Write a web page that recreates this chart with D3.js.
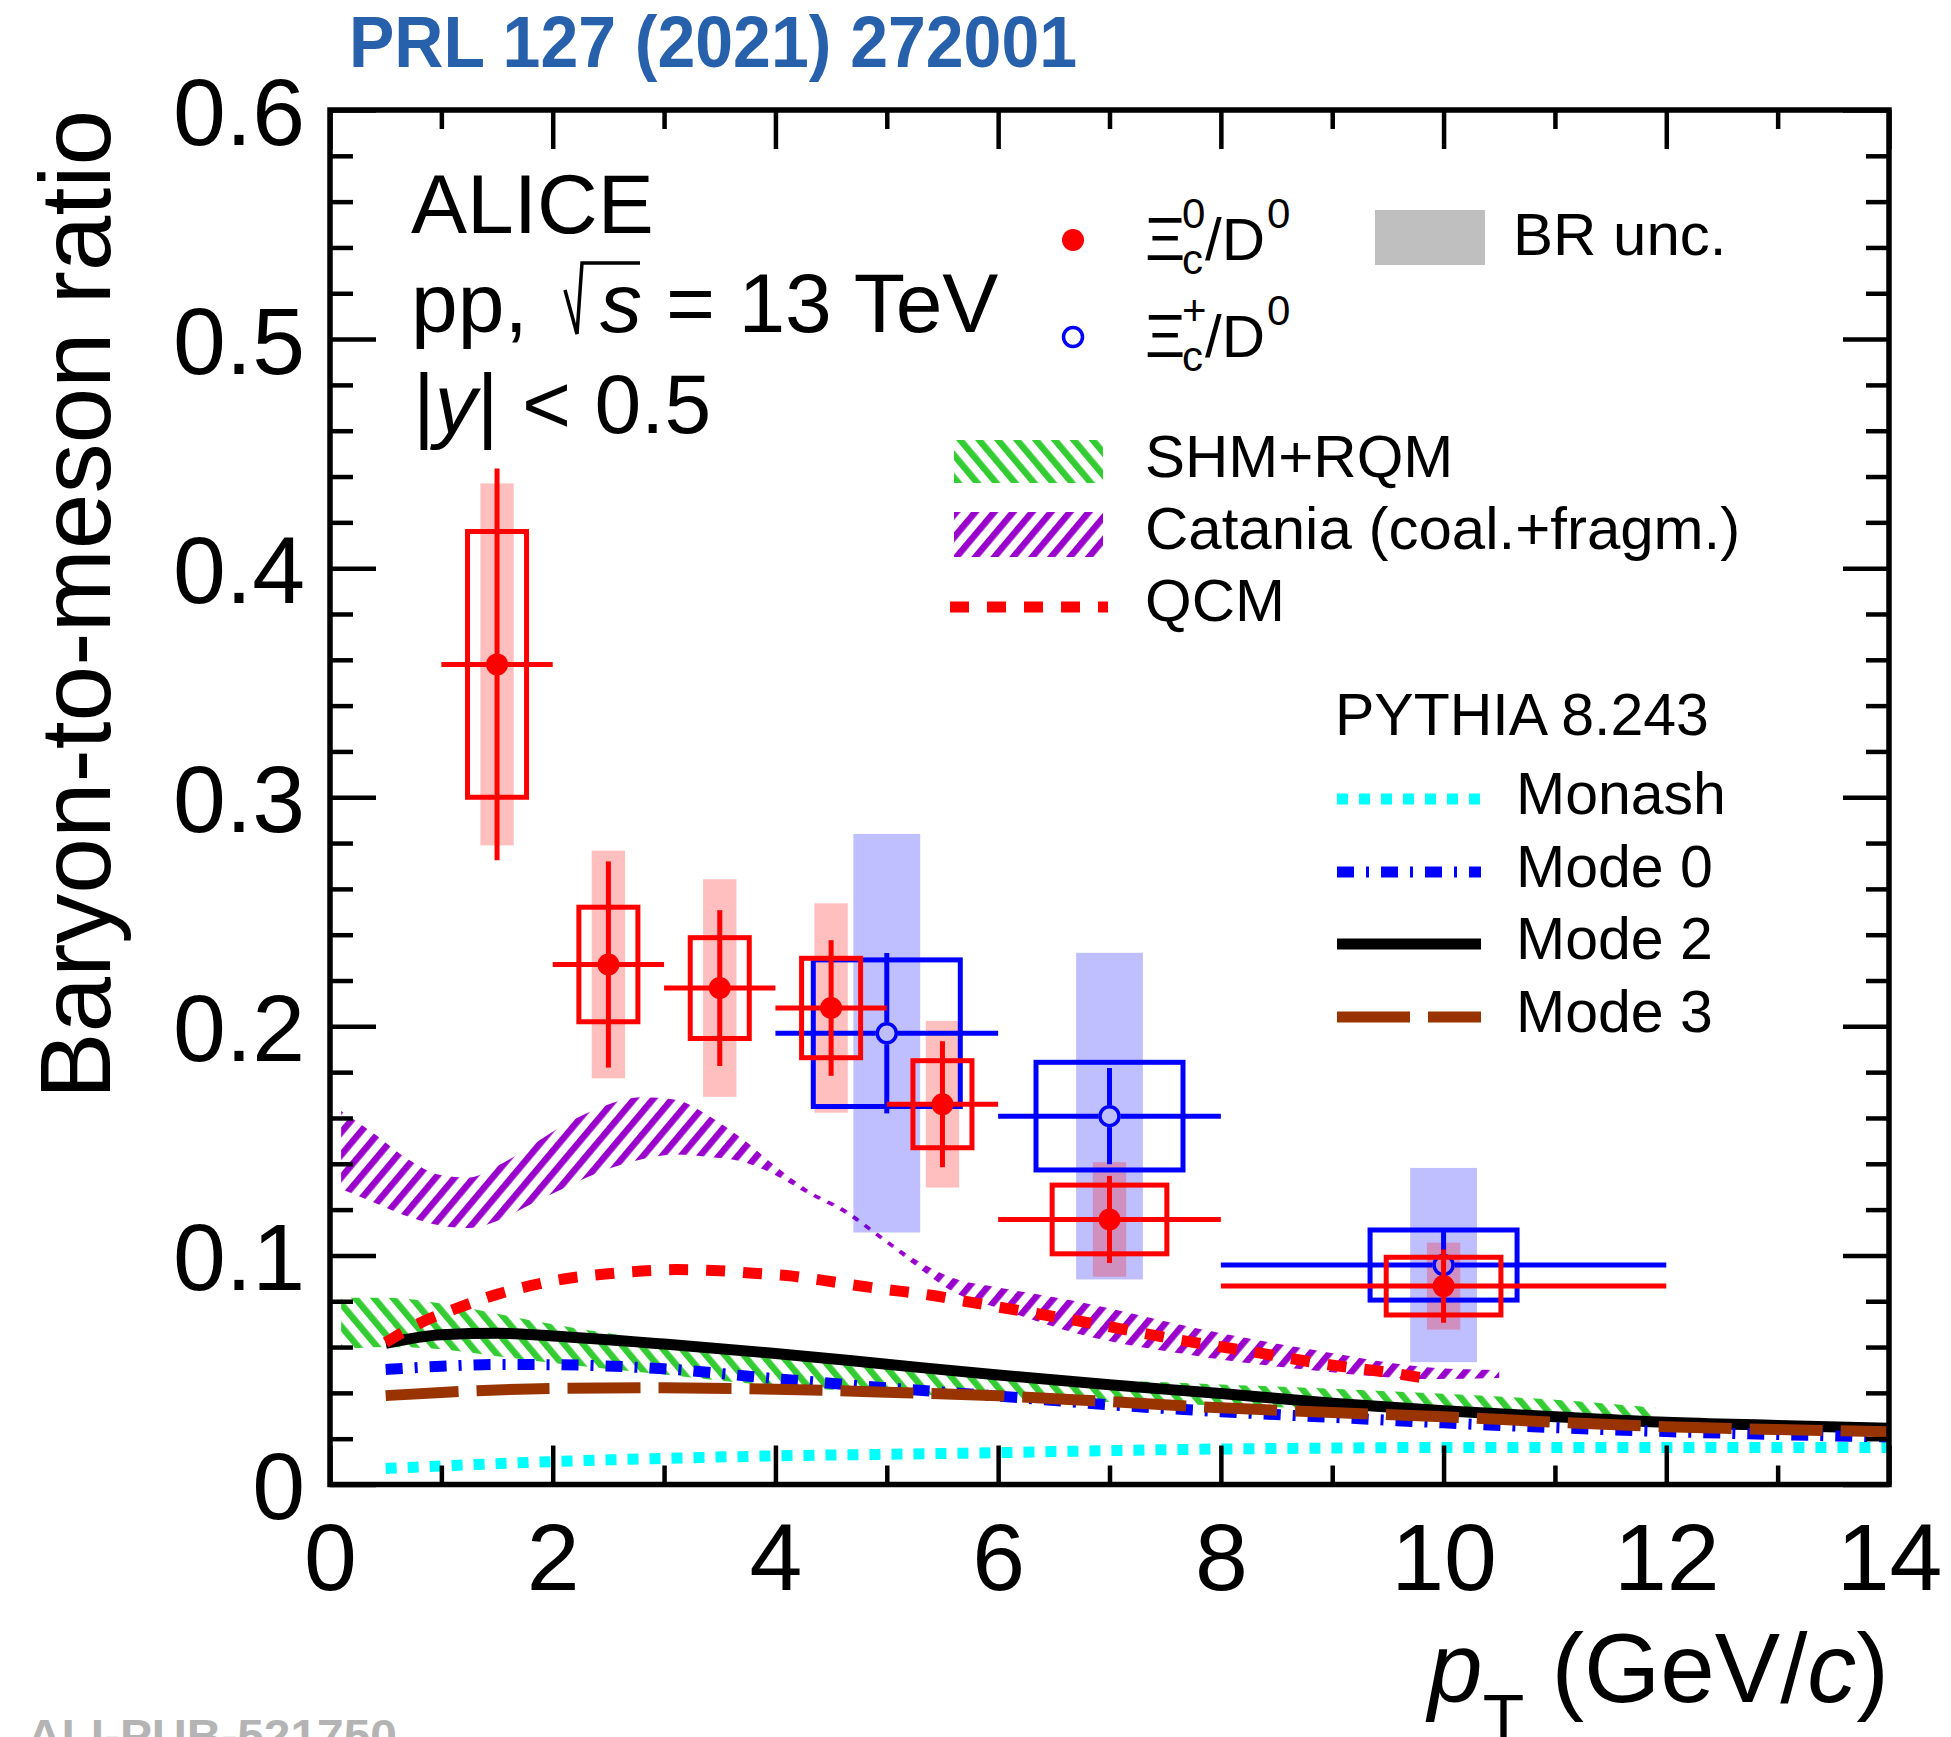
<!DOCTYPE html>
<html>
<head>
<meta charset="utf-8">
<script src="https://cdn.jsdelivr.net/npm/d3@7"></script>
<style>
  html, body { margin: 0; padding: 0; background: #fff; }
  svg { display: block; }
  text { font-family: "Liberation Sans", Arial, sans-serif; }
</style>
</head>
<body>
<svg id="canvas"></svg>
<script>
"use strict";

// ---- data ----
// Xi_c^0 / D^0
const ptXi0 = [1.5, 2.5, 3.5, 4.5, 5.5, 7, 10];
const binXi0 = [0.5, 0.5, 0.5, 0.5, 0.5, 1, 2];
const ratioXi0 = [0.358, 0.227, 0.2167, 0.208, 0.166, 0.1157, 0.0866];
const statXi0 = [0.0855, 0.045, 0.034, 0.0296, 0.0275, 0.019, 0.016];
const systXi0 = [0.058, 0.025, 0.022, 0.0217, 0.019, 0.015, 0.0126];
const brXi0 = [0.079, 0.0497, 0.0475, 0.0457, 0.0364, 0.025, 0.019];

// Xi_c^+ / D^0
const ptXiP = [5, 7, 10];
const binXiP = [1, 1, 2];
const ratioXiP = [0.197, 0.1608, 0.0958];
const statXiP = [0.035, 0.021, 0.015];
const systXiP = [0.032, 0.0235, 0.0153];
const brXiP = [0.087, 0.0713, 0.0424];

// PYTHIA 8.243
const pythiaPt = [0.5, 1, 1.5, 2, 3, 4, 5, 6, 7, 8, 9, 10, 11, 12, 13, 14];
const monash = [0.007, 0.0081, 0.0091, 0.01, 0.0114, 0.0125, 0.0132, 0.0139, 0.0148, 0.0155, 0.0159, 0.0162, 0.0162, 0.0162, 0.0162, 0.0162];
const mode0 = [0.0502, 0.0516, 0.0524, 0.0523, 0.0505, 0.0462, 0.0422, 0.0386, 0.0348, 0.0318, 0.0293, 0.0269, 0.0248, 0.0231, 0.0218, 0.0207];
const mode2 = [0.0616, 0.0654, 0.066, 0.0648, 0.0613, 0.0572, 0.0525, 0.0478, 0.0435, 0.0397, 0.0355, 0.0322, 0.0296, 0.0272, 0.0258, 0.0245];
const mode3 = [0.0388, 0.0402, 0.0413, 0.0419, 0.0422, 0.0416, 0.0403, 0.0387, 0.0362, 0.0335, 0.0314, 0.0296, 0.0272, 0.0252, 0.024, 0.023];

// QCM
const qcmPt = [0.5, 0.8, 1.1, 1.5, 1.8, 2.1, 2.5, 2.8, 3.1, 3.5, 3.8, 4.1, 4.4, 4.7, 5.0, 5.4, 5.7, 6.3, 7.0, 7.6, 8.3, 8.9, 9.6, 9.9];
const qcm = [0.062, 0.0703, 0.0762, 0.083, 0.0868, 0.0897, 0.092, 0.0932, 0.0938, 0.0933, 0.0922, 0.0912, 0.0893, 0.0871, 0.0851, 0.0826, 0.08, 0.075, 0.0689, 0.0633, 0.0578, 0.0528, 0.0482, 0.0458];

// SHM+RQM band
const shmPt = [0.1, 0.5, 1, 1.5, 2, 3, 4, 5, 6, 7, 8, 9, 10, 11, 11.9];
const shmLow = [0.059, 0.06, 0.059, 0.056, 0.053, 0.048, 0.043, 0.04, 0.0378, 0.036, 0.0345, 0.033, 0.0315, 0.0305, 0.0295];
const shmHigh = [0.0815, 0.0815, 0.079, 0.0745, 0.07, 0.0625, 0.0565, 0.0515, 0.0478, 0.0455, 0.0437, 0.0418, 0.0396, 0.037, 0.0335];

// Catania (coal.+fragm.) band
const catPt = [0.1, 0.4, 0.7, 1.0, 1.25, 1.5, 1.75, 2.0, 2.4, 2.8, 3.1, 3.4, 3.7, 4.0, 4.3, 4.6, 5.0, 5.3, 5.6, 6.0, 6.7, 7.8, 8.8, 9.9, 10.5];
const catLow = [0.129, 0.123, 0.117, 0.113, 0.112, 0.115, 0.121, 0.127, 0.136, 0.142, 0.144, 0.143, 0.141, 0.135, 0.1265, 0.119, 0.105, 0.094, 0.084, 0.077, 0.066, 0.056, 0.05, 0.046, 0.0465];
const catHigh = [0.163, 0.153, 0.142, 0.135, 0.134, 0.139, 0.146, 0.154, 0.164, 0.169, 0.168, 0.161, 0.151, 0.139, 0.1285, 0.121, 0.107, 0.097, 0.09, 0.086, 0.08, 0.068, 0.059, 0.051, 0.05];

const xTicks = [0, 2, 4, 6, 8, 10, 12, 14];
const yTicks = [0, 0.1, 0.2, 0.3, 0.4, 0.5, 0.6];

// ---- layout ----
const width = 1951;
const height = 1737;
const plot = { left: 330, right: 1889, top: 110, bottom: 1484.5 };

const red = "#ff0000";
const blue = "#0000ff";

const svg = d3.select("#canvas").attr("width", width).attr("height", height);
svg.append("rect").attr("width", width).attr("height", height).attr("fill", "#fff");

const xScale = d3.scaleLinear().domain([0, 14]).range([plot.left, plot.right]);
const yScale = d3.scaleLinear().domain([0, 0.6]).range([plot.bottom, plot.top]);

const defs = svg.append("defs");
defs.append("clipPath").attr("id", "plotClip")
  .append("rect")
  .attr("x", plot.left).attr("y", plot.top)
  .attr("width", plot.right - plot.left).attr("height", plot.bottom - plot.top);

const hatch = (id, color, angle) => {
  const p = defs.append("pattern")
    .attr("id", id)
    .attr("patternUnits", "userSpaceOnUse")
    .attr("width", 14.5).attr("height", 14.5)
    .attr("patternTransform", `rotate(${angle})`);
  p.append("rect").attr("width", 6.5).attr("height", 14.5).attr("fill", color);
};
hatch("hatchCat", "#9900cc", 40);   // "////"
hatch("hatchShm", "#33cc33", -40);  // "\\\\"

const zip = (...arrs) => arrs[0].map((_, i) => arrs.map((a) => a[i]));

const line = d3.line()
  .x((d) => xScale(d[0]))
  .y((d) => yScale(d[1]))
  .curve(d3.curveMonotoneX);

const band = d3.area()
  .x((d) => xScale(d[0]))
  .y0((d) => yScale(d[1]))
  .y1((d) => yScale(d[2]))
  .curve(d3.curveMonotoneX);

const models = svg.append("g").attr("clip-path", "url(#plotClip)");

// ---- model bands ----
models.append("path")
  .attr("d", band(zip(catPt, catLow, catHigh)))
  .attr("fill", "url(#hatchCat)");

models.append("path")
  .attr("d", band(zip(shmPt, shmLow, shmHigh)))
  .attr("fill", "url(#hatchShm)");

// ---- PYTHIA curves ----
const pythiaCurves = [
  { name: "Monash", values: monash, color: "#00ffff", dash: "11,11" },
  { name: "Mode 0", values: mode0, color: "#0000ff", dash: "17,12,3,12" },
  { name: "Mode 2", values: mode2, color: "#000000", dash: null },
  { name: "Mode 3", values: mode3, color: "#993300", dash: "73,18" },
];
const drawOrder = [0, 2, 1, 3];

drawOrder.forEach((i) => {
  const c = pythiaCurves[i];
  models.append("path")
    .attr("d", line(zip(pythiaPt, c.values)))
    .attr("fill", "none")
    .attr("stroke", c.color)
    .attr("stroke-width", 11)
    .attr("stroke-dasharray", c.dash);
});

const qcmDash = "19,18";
models.append("path")
  .attr("d", line(zip(qcmPt, qcm)))
  .attr("fill", "none")
  .attr("stroke", red)
  .attr("stroke-width", 11)
  .attr("stroke-dasharray", qcmDash);

// ---- data points ----
const pts = svg.append("g");

const brBoxes = (pt, val, br, half, color) => {
  pts.selectAll(null)
    .data(zip(pt, val, br))
    .enter()
    .append("rect")
    .attr("x", (d) => xScale(d[0] - half))
    .attr("width", (d) => xScale(d[0] + half) - xScale(d[0] - half))
    .attr("y", (d) => yScale(d[1] + d[2]))
    .attr("height", (d) => yScale(d[1] - d[2]) - yScale(d[1] + d[2]))
    .attr("fill", color)
    .attr("fill-opacity", 0.25);
};

brBoxes(ptXiP, ratioXiP, brXiP, 0.3, blue);
brBoxes(ptXi0, ratioXi0, brXi0, 0.15, red);

const drawSeries = (pt, bin, val, stat, syst, color, halfFn, open) => {
  const rows = zip(pt, bin, val, stat, syst);
  const g = pts.append("g");
  const r = 11;

  g.selectAll("rect.syst")
    .data(rows)
    .enter()
    .append("rect")
    .attr("class", "syst")
    .attr("x", (d) => xScale(d[0] - halfFn(d[1])))
    .attr("width", (d) => xScale(d[0] + halfFn(d[1])) - xScale(d[0] - halfFn(d[1])))
    .attr("y", (d) => yScale(d[2] + d[4]))
    .attr("height", (d) => yScale(d[2] - d[4]) - yScale(d[2] + d[4]))
    .attr("fill", "none")
    .attr("stroke", color)
    .attr("stroke-width", 5);

  const gap = open ? r : 0;
  const segs = [];
  rows.forEach((d) => {
    const cx = xScale(d[0]);
    const cy = yScale(d[2]);
    segs.push([xScale(d[0] - d[1]), cy, cx - gap, cy]);
    segs.push([cx + gap, cy, xScale(d[0] + d[1]), cy]);
    segs.push([cx, yScale(d[2] + d[3]), cx, cy - gap]);
    segs.push([cx, cy + gap, cx, yScale(d[2] - d[3])]);
  });
  g.selectAll("line")
    .data(segs)
    .enter()
    .append("line")
    .attr("x1", (d) => d[0]).attr("y1", (d) => d[1])
    .attr("x2", (d) => d[2]).attr("y2", (d) => d[3])
    .attr("stroke", color)
    .attr("stroke-width", 5);

  g.selectAll("circle")
    .data(rows)
    .enter()
    .append("circle")
    .attr("cx", (d) => xScale(d[0]))
    .attr("cy", (d) => yScale(d[2]))
    .attr("r", open ? r - 1.5 : r)
    .attr("fill", open ? "none" : color)
    .attr("stroke", open ? color : "none")
    .attr("stroke-width", 3.5);
};

drawSeries(ptXiP, binXiP, ratioXiP, statXiP, systXiP, blue, () => 0.66, true);
drawSeries(ptXi0, binXi0, ratioXi0, statXi0, systXi0, red, (b) => (b > 0.5 ? 0.515 : 0.265), false);

// ---- axes ----
const styleAxis = (g, fontSize) => {
  g.select(".domain").remove();
  g.selectAll(".tick line").attr("stroke", "#000").attr("stroke-width", 4.5);
  g.attr("font-size", fontSize).attr("font-family", "Liberation Sans, Arial, sans-serif");
  g.selectAll("text").attr("fill", "#000");
};

const xMinor = d3.range(1, 14, 2);
const yMinor = d3.range(1, 30).filter((i) => i % 5 !== 0).map((i) => i * 0.02);
const yFmt = (d) => (d === 0 ? "0" : d3.format(".1f")(d));

svg.append("g")
  .attr("transform", `translate(0,${plot.bottom})`)
  .call(d3.axisBottom(xScale).tickValues(xTicks).tickSizeInner(-39).tickSizeOuter(0).tickPadding(38).tickFormat(d3.format("d")))
  .call((g) => styleAxis(g, 95));
svg.append("g")
  .attr("transform", `translate(0,${plot.bottom})`)
  .call(d3.axisBottom(xScale).tickValues(xMinor).tickSizeInner(-19).tickSizeOuter(0).tickFormat(""))
  .call((g) => styleAxis(g, 95));
svg.append("g")
  .attr("transform", `translate(0,${plot.top})`)
  .call(d3.axisTop(xScale).tickValues(xTicks).tickSizeInner(-39).tickSizeOuter(0).tickFormat(""))
  .call((g) => styleAxis(g, 95));
svg.append("g")
  .attr("transform", `translate(0,${plot.top})`)
  .call(d3.axisTop(xScale).tickValues(xMinor).tickSizeInner(-19).tickSizeOuter(0).tickFormat(""))
  .call((g) => styleAxis(g, 95));

svg.append("g")
  .attr("transform", `translate(${plot.left},0)`)
  .call(d3.axisLeft(yScale).tickValues(yTicks).tickSizeInner(-46).tickSizeOuter(0).tickPadding(25).tickFormat(yFmt))
  .call((g) => styleAxis(g, 95))
  .call((g) => g.selectAll("text").attr("dy", "0.36em"));
svg.append("g")
  .attr("transform", `translate(${plot.left},0)`)
  .call(d3.axisLeft(yScale).tickValues(yMinor).tickSizeInner(-23).tickSizeOuter(0).tickFormat(""))
  .call((g) => styleAxis(g, 95));
svg.append("g")
  .attr("transform", `translate(${plot.right},0)`)
  .call(d3.axisRight(yScale).tickValues(yTicks).tickSizeInner(-46).tickSizeOuter(0).tickFormat(""))
  .call((g) => styleAxis(g, 95));
svg.append("g")
  .attr("transform", `translate(${plot.right},0)`)
  .call(d3.axisRight(yScale).tickValues(yMinor).tickSizeInner(-23).tickSizeOuter(0).tickFormat(""))
  .call((g) => styleAxis(g, 95));

svg.append("rect")
  .attr("x", plot.left).attr("y", plot.top)
  .attr("width", plot.right - plot.left).attr("height", plot.bottom - plot.top)
  .attr("fill", "none").attr("stroke", "#000").attr("stroke-width", 5.5);

// axis titles
svg.append("text")
  .attr("transform", `translate(110,${plot.top}) rotate(-90)`)
  .attr("text-anchor", "end")
  .attr("font-size", 100)
  .text("Baryon-to-meson ratio");

const xTitle = svg.append("text")
  .attr("x", plot.right).attr("y", 1702)
  .attr("text-anchor", "end")
  .attr("font-size", 98);
xTitle.append("tspan").attr("font-style", "italic").text("p");
xTitle.append("tspan").attr("font-size", 68).attr("dy", 40).text("T");
xTitle.append("tspan").attr("dy", -40).text("\u00a0(GeV/");
xTitle.append("tspan").attr("font-style", "italic").text("c");
xTitle.append("tspan").text(")");

// header & watermark
svg.append("text")
  .attr("x", 349).attr("y", 67)
  .attr("font-family", "'Open Sans', 'Noto Sans', sans-serif")
  .attr("font-weight", 700)
  .attr("font-size", 72)
  .attr("fill", "#2861ab")
  .attr("textLength", 728)
  .attr("lengthAdjust", "spacingAndGlyphs")
  .text("PRL 127 (2021) 272001");

svg.append("text")
  .attr("x", 27).attr("y", 1751)
  .attr("font-family", "'Liberation Mono', 'DejaVu Sans Mono', monospace")
  .attr("font-weight", 700)
  .attr("font-size", 44)
  .attr("fill", "#b4b4b4")
  .attr("textLength", 370)
  .attr("lengthAdjust", "spacingAndGlyphs")
  .text("ALI-PUB-521750");

// ALICE block
const info = svg.append("g").attr("font-size", 84);
info.append("text").attr("x", 411).attr("y", 233).text("ALICE");
info.append("text").attr("x", 411).attr("y", 332).text("pp,");
info.append("path")
  .attr("d", "M565,290 L577,334 L582,263 L640,263")
  .attr("fill", "none").attr("stroke", "#000").attr("stroke-width", 3.5);
info.append("text").attr("x", 600).attr("y", 332).attr("font-style", "italic").text("s");
info.append("text").attr("x", 666).attr("y", 332).text("= 13 TeV");
const yCut = info.append("text").attr("x", 413).attr("y", 433);
yCut.append("tspan").text("|");
yCut.append("tspan").attr("font-style", "italic").text("y");
yCut.append("tspan").text("| < 0.5");

// ---- legend: data ----
const legend = svg.append("g");
const xiLabel = (y, chargeSup) => {
  const x0 = 1145;
  legend.append("text").attr("x", x0).attr("y", y)
    .attr("font-family", "'Liberation Serif', serif").attr("font-size", 62).text("\u039e");
  legend.append("text").attr("x", x0 + 37).attr("y", y - 32).attr("font-size", 42).text(chargeSup);
  legend.append("text").attr("x", x0 + 37).attr("y", y + 14).attr("font-size", 42).text("c");
  const t = legend.append("text").attr("x", x0 + 60).attr("y", y).attr("font-size", 60).text("/D");
  const w = t.node().getComputedTextLength();
  legend.append("text").attr("x", x0 + 62 + w).attr("y", y - 32).attr("font-size", 42).text("0");
};

legend.append("circle").attr("cx", 1073).attr("cy", 240).attr("r", 11).attr("fill", red);
xiLabel(260, "0");
legend.append("circle").attr("cx", 1073).attr("cy", 337).attr("r", 9.5)
  .attr("fill", "none").attr("stroke", blue).attr("stroke-width", 3.5);
xiLabel(357, "+");

legend.append("rect").attr("x", 1375).attr("y", 210).attr("width", 110).attr("height", 55).attr("fill", "#bfbfbf");
legend.append("text").attr("x", 1513).attr("y", 255).attr("font-size", 60).text("BR unc.");

// ---- legend: models ----
legend.append("rect").attr("x", 954).attr("y", 440).attr("width", 149).attr("height", 43).attr("fill", "url(#hatchShm)");
legend.append("text").attr("x", 1145).attr("y", 477).attr("font-size", 60).text("SHM+RQM");
legend.append("rect").attr("x", 954).attr("y", 512).attr("width", 149).attr("height", 45).attr("fill", "url(#hatchCat)");
legend.append("text").attr("x", 1145).attr("y", 549).attr("font-size", 60).text("Catania (coal.+fragm.)");
legend.append("line").attr("x1", 950).attr("x2", 1108).attr("y1", 607).attr("y2", 607)
  .attr("stroke", red).attr("stroke-width", 11).attr("stroke-dasharray", qcmDash);
legend.append("text").attr("x", 1145).attr("y", 621).attr("font-size", 60).text("QCM");

legend.append("text").attr("x", 1335).attr("y", 735).attr("font-size", 59).text("PYTHIA 8.243");
const pyLineY = [799, 872, 944, 1017];
pythiaCurves.forEach((c, i) => {
  legend.append("line")
    .attr("x1", 1337).attr("x2", 1481)
    .attr("y1", pyLineY[i]).attr("y2", pyLineY[i])
    .attr("stroke", c.color).attr("stroke-width", 11)
    .attr("stroke-dasharray", c.dash);
  legend.append("text")
    .attr("x", 1516).attr("y", pyLineY[i] + 15)
    .attr("font-size", 59)
    .text(c.name);
});
</script>
</body>
</html>
